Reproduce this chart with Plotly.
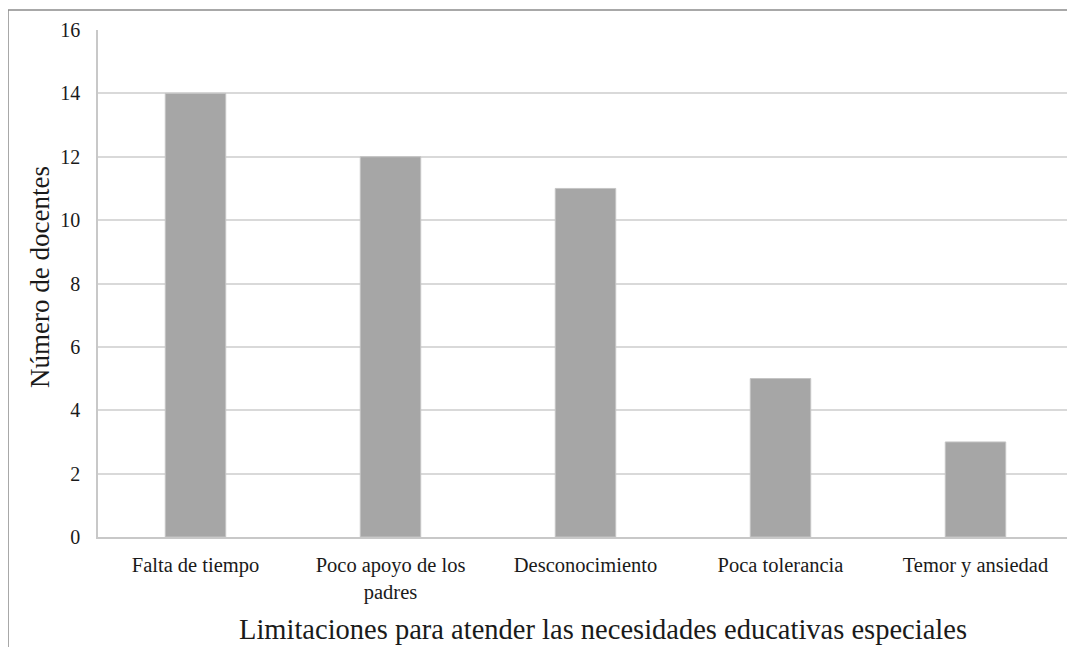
import plotly.graph_objects as go

categories = ["Falta de tiempo", "Poco apoyo de los<br>padres", "Desconocimiento",
              "Poca tolerancia", "Temor y ansiedad"]
values = [14, 12, 11, 5, 3]
y_ticks = [0, 2, 4, 6, 8, 10, 12, 14, 16]
x_title = "Limitaciones para atender las necesidades educativas especiales"
y_title = "Número de docentes"

FONT = "Liberation Serif, Times New Roman, serif"

fig = go.Figure(go.Bar(
    x=categories, y=values,
    marker=dict(color="#a6a6a6", line=dict(color="#c4c4c4", width=1)),
    width=0.31,
))

# page body has an 8px margin, so the figure is sized/positioned accordingly
fig.update_layout(
    width=1067, height=639,
    margin=dict(l=90, r=2, t=22, b=110),
    paper_bgcolor="white", plot_bgcolor="white",
    font=dict(family=FONT, color="#1a1a1a", size=20),
    showlegend=False,
    xaxis=dict(
        showgrid=False, showline=True, linecolor="#c8c8c8", linewidth=1.5,
        tickfont=dict(size=20.5, family=FONT), ticks="outside", ticklen=9,
        tickcolor="rgba(0,0,0,0)",
    ),
    yaxis=dict(
        range=[0, 16], tickvals=y_ticks, showgrid=True, gridcolor="#d9d9d9", gridwidth=1.5,
        showline=True, linecolor="#c8c8c8", linewidth=1.5, zeroline=False,
        tickfont=dict(size=20, family=FONT), ticks="outside", ticklen=12,
        tickcolor="rgba(0,0,0,0)",
    ),
    annotations=[
        dict(text=x_title, xref="paper", yref="paper", x=0.518, y=-0.183,
             xanchor="center", yanchor="middle", showarrow=False,
             font=dict(size=28.5, family=FONT, color="#1a1a1a")),
        dict(text=y_title, xref="paper", yref="paper", x=-0.0595, y=0.513,
             xanchor="center", yanchor="middle", showarrow=False, textangle=-90,
             font=dict(size=27, family=FONT, color="#1a1a1a")),
    ],
    shapes=[dict(type="rect", xref="paper", yref="paper",
                 x0=-0.0923, x1=1.2, y0=-0.4, y1=1.0394,
                 line=dict(color="#8c8c8c", width=1.5), fillcolor="rgba(0,0,0,0)",
                 layer="below")],
)

fig.write_html("out.html")
